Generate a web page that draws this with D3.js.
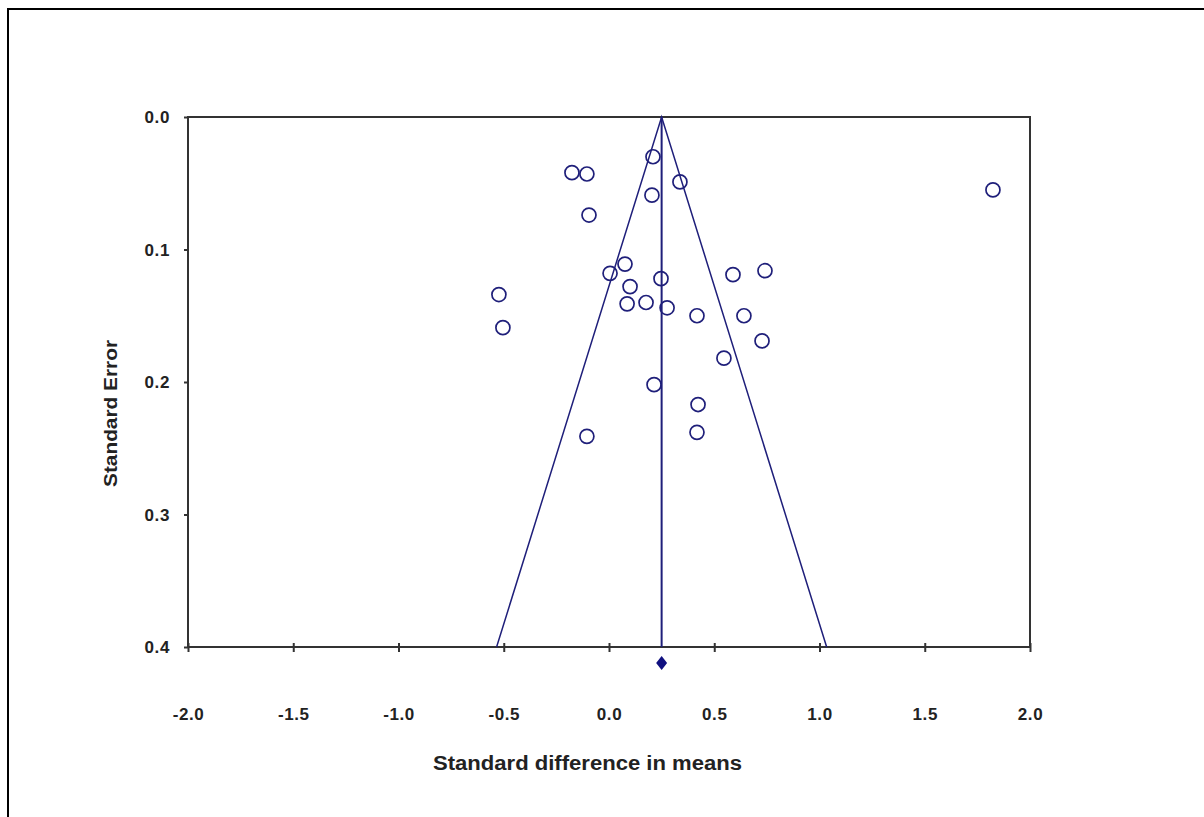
<!DOCTYPE html>
<html>
<head>
<meta charset="utf-8">
<script src="https://cdn.jsdelivr.net/npm/d3@7"></script>
<style>
  body { margin: 0; background: #fff; }
  text { font-family: 'Liberation Sans', Arial, sans-serif; font-weight: bold; fill: #222; }
</style>
</head>
<body>
<div id="chart"></div>
<script>
// study effect sizes (standard difference in means) and their standard errors
const effects = [0.209, -0.176, -0.105, 0.337, 0.204, 1.824, -0.095, 0.076, 0.005, 0.247,
  0.589, 0.741, 0.100, -0.523, 0.086, 0.176, 0.276, 0.418, 0.641, -0.504,
  0.727, 0.546, 0.214, 0.423, 0.418, -0.105]
const stdErrors = [0.030, 0.042, 0.043, 0.049, 0.059, 0.055, 0.074, 0.111, 0.118, 0.122,
  0.119, 0.116, 0.128, 0.134, 0.141, 0.140, 0.144, 0.150, 0.150, 0.159,
  0.169, 0.182, 0.202, 0.217, 0.238, 0.241]
const pooledEffect = 0.25
const xTicks = [-2.0, -1.5, -1.0, -0.5, 0.0, 0.5, 1.0, 1.5, 2.0]
const yTicks = [0.0, 0.1, 0.2, 0.3, 0.4]

const width = 1204
const height = 817
const navy = '#1f1f7a'

// plain hyphen for negatives, like the original
const fmt = d => (d < 0 ? '-' : '') + Math.abs(d).toFixed(1)

const svg = d3
  .select('#chart')
  .append('svg')
  .attr('width', width)
  .attr('height', height)

// outer frame (only top and left edges visible)
svg
  .append('rect')
  .attr('x', 8)
  .attr('y', 9)
  .attr('width', width + 20)
  .attr('height', height + 20)
  .attr('fill', 'none')
  .attr('stroke', '#000')
  .attr('stroke-width', 2)

const x = d3.scaleLinear().domain([-2, 2]).range([188, 1030])
const y = d3.scaleLinear().domain([0, 0.4]).range([117, 647])

// plot box
svg
  .append('rect')
  .attr('x', x(-2))
  .attr('y', y(0))
  .attr('width', x(2) - x(-2))
  .attr('height', y(0.4) - y(0))
  .attr('fill', 'none')
  .attr('stroke', '#333')
  .attr('stroke-width', 2)

// x axis
const xAxis = svg
  .append('g')
  .attr('transform', 'translate(0,' + y(0.4) + ')')
  .call(
    d3.axisBottom(x)
      .tickValues(xTicks)
      .tickFormat(fmt)
      .tickSize(5)
  )
xAxis.select('.domain').remove()
xAxis.selectAll('line').attr('y1', -4).attr('stroke', '#333').attr('stroke-width', 2)
xAxis
  .selectAll('text')
  .attr('y', 67)
  .attr('dy', '0.35em')
  .style('font-size', '17px')
  .style('letter-spacing', '0.6px')
  .style('font-family', "'Liberation Sans', Arial, sans-serif")
  .attr('fill', '#222')

// y axis
const yAxis = svg
  .append('g')
  .attr('transform', 'translate(' + x(-2) + ',0)')
  .call(
    d3.axisLeft(y)
      .tickValues(yTicks)
      .tickFormat(fmt)
      .tickSize(4)
  )
yAxis.select('.domain').remove()
yAxis.selectAll('line').attr('stroke', '#333').attr('stroke-width', 2)
yAxis
  .selectAll('text')
  .attr('x', -18)
  .attr('dy', '0.35em')
  .style('font-size', '17px')
  .style('letter-spacing', '0.6px')
  .style('font-family', "'Liberation Sans', Arial, sans-serif")
  .attr('fill', '#222')

// funnel
const seMax = 0.4
svg
  .append('path')
  .attr('d', d3.line()([
    [x(pooledEffect - 1.96 * seMax), y(seMax)],
    [x(pooledEffect), y(0)],
    [x(pooledEffect + 1.96 * seMax), y(seMax)]
  ]))
  .attr('fill', 'none')
  .attr('stroke', navy)
  .attr('stroke-width', 1.5)

svg
  .append('line')
  .attr('x1', x(pooledEffect))
  .attr('x2', x(pooledEffect))
  .attr('y1', y(0))
  .attr('y2', y(seMax))
  .attr('stroke', navy)
  .attr('stroke-width', 2)

// studies
svg
  .selectAll('.study')
  .data(effects)
  .enter()
  .append('circle')
  .attr('class', 'study')
  .attr('cx', d => x(d))
  .attr('cy', (d, i) => y(stdErrors[i]))
  .attr('r', 7)
  .attr('fill', 'none')
  .attr('stroke', navy)
  .attr('stroke-width', 1.7)

// pooled estimate diamond
svg
  .append('path')
  .attr('d', 'M0,-7L5.5,0L0,7L-5.5,0Z')
  .attr('transform', 'translate(' + x(pooledEffect) + ',' + (y(0.4) + 16) + ')')
  .attr('fill', '#101080')

// axis titles
svg
  .append('text')
  .attr('x', 433)
  .attr('y', 763)
  .attr('dy', '0.35em')
  .attr('textLength', 309)
  .attr('lengthAdjust', 'spacingAndGlyphs')
  .style('font-size', '20px')
  .text('Standard difference in means')

svg
  .append('text')
  .attr('transform', 'translate(111,487) rotate(-90)')
  .attr('dy', '0.35em')
  .attr('textLength', 147)
  .attr('lengthAdjust', 'spacingAndGlyphs')
  .style('font-size', '18px')
  .text('Standard Error')
</script>
</body>
</html>
